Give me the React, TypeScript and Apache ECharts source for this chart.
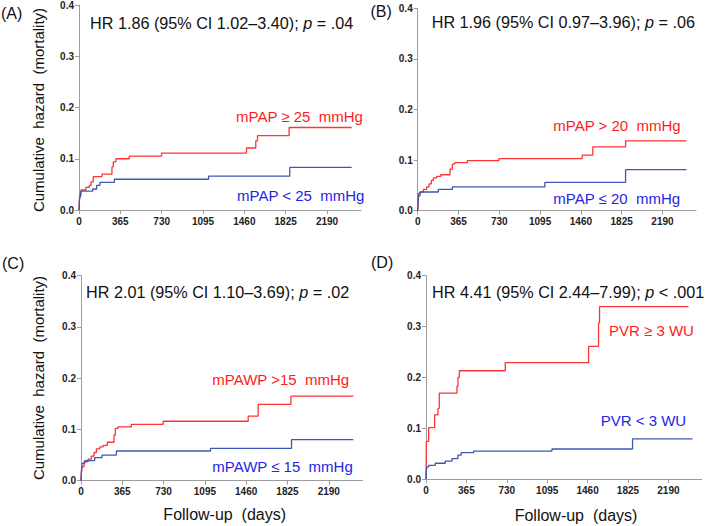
import React, { useEffect, useRef } from "react";
import * as echarts from "echarts";

const FONT = "'Liberation Sans', Arial, Helvetica, sans-serif";

const xTicks = [0, 365, 730, 1095, 1460, 1825, 2190];
const yTickFormat = (v: number) => v.toFixed(1);
const xTickFormat = (v: number) => String(Math.round(v));

const panelLetters = ["(A)", "(B)", "(C)", "(D)"];
const hrMain = [
  "HR 1.86 (95% CI 1.02\u20133.40); ",
  "HR 1.96 (95% CI 0.97\u20133.96); ",
  "HR 2.01 (95% CI 1.10\u20133.69); ",
  "HR 4.41 (95% CI 2.44\u20137.99); ",
];
const hrP = [" = .04", " = .06", " = .02", " < .001"];
const highLabels = ["mPAP \u2265 25  mmHg", "mPAP > 20  mmHg", "mPAWP >15  mmHg", "PVR \u2265 3 WU"];
const lowLabels = ["mPAP < 25  mmHg", "mPAP \u2264 20  mmHg", "mPAWP \u2264 15  mmHg", "PVR < 3 WU"];
const yTitle = "Cumulative  hazard  (mortality)";
const xTitle = "Follow-up  (days)";

// [day, cumulative hazard]
const aHigh = [[0, 0], [3, 0.015], [8, 0.029], [18, 0.039], [60, 0.044], [91, 0.048], [106, 0.055], [126, 0.065], [203, 0.07], [291, 0.084], [303, 0.094], [326, 0.1], [444, 0.105], [729, 0.111], [1479, 0.121], [1561, 0.135], [1576, 0.145], [1855, 0.161], [2408, 0.161]];
const aLow = [[0, 0], [5, 0.025], [12, 0.033], [18, 0.037], [121, 0.041], [156, 0.048], [185, 0.054], [312, 0.06], [1144, 0.066], [1861, 0.083], [2408, 0.083]];
const bHigh = [[0, 0], [3, 0.015], [6, 0.029], [21, 0.037], [51, 0.042], [80, 0.047], [101, 0.053], [122, 0.06], [140, 0.065], [170, 0.068], [206, 0.071], [289, 0.082], [310, 0.092], [331, 0.095], [444, 0.099], [727, 0.103], [1472, 0.11], [1567, 0.126], [1860, 0.138], [2405, 0.138]];
const bLow = [[0, 0], [4, 0.02], [9, 0.034], [21, 0.037], [185, 0.042], [310, 0.047], [1138, 0.056], [1860, 0.081], [2405, 0.081]];
const cHigh = [[0, 0], [3, 0.014], [9, 0.027], [27, 0.037], [62, 0.042], [91, 0.048], [115, 0.055], [136, 0.062], [165, 0.066], [195, 0.069], [233, 0.075], [292, 0.089], [304, 0.102], [327, 0.105], [445, 0.11], [726, 0.116], [1478, 0.126], [1566, 0.149], [1856, 0.165], [2407, 0.165]];
const cLow = [[0, 0], [4, 0.02], [9, 0.034], [32, 0.039], [121, 0.045], [186, 0.05], [313, 0.058], [1145, 0.063], [1861, 0.08], [2407, 0.08]];
const dHigh = [[0, 0], [2, 0.04], [3, 0.074], [24, 0.101], [78, 0.126], [108, 0.139], [120, 0.169], [280, 0.182], [289, 0.2], [301, 0.213], [716, 0.229], [1469, 0.261], [1559, 0.307], [1568, 0.339], [2372, 0.339]];
const dLow = [[0, 0], [3, 0.015], [8, 0.024], [24, 0.027], [84, 0.031], [174, 0.035], [234, 0.04], [288, 0.047], [318, 0.052], [430, 0.055], [1138, 0.059], [1866, 0.079], [2408, 0.079]];

const highSeries = [aHigh, bHigh, cHigh, dHigh];
const lowSeries = [aLow, bLow, cLow, dLow];

const X_MAX = 2490;

// layout (px)
const grids = [
  { left: 79, top: 4.3, width: 282, height: 205.7 },
  { left: 417.7, top: 8.3, width: 278.3, height: 202.4 },
  { left: 81, top: 275.7, width: 281.7, height: 205 },
  { left: 426, top: 275.7, width: 275.6, height: 203.3 },
];
const letterPos = [[1, 13], [370.5, 11.5], [2, 263], [371, 262]];
const hrPos = [[90, 22.5], [431.7, 21.7], [86, 292], [432, 292]];
const HR_SIZE = 16.2;
const highPos = [[236, 116.5], [553.3, 125.5], [212.3, 379.5], [609, 330]];
const lowPos = [[237, 195], [553.3, 198], [212.3, 466], [600.7, 420]];
const yTitlePos = [[38, 110], [38.3, 378]];
const xTitlePos = [[224.7, 514], [576, 515]];

const RED_LINE = "#ff3434";
const BLUE_LINE = "#3d58b4";
const RED_TEXT = "#ff1a1a";
const BLUE_TEXT = "#2424e6";
const AXIS = "#9c9c9c";

export default function App() {
  const ref = useRef<HTMLDivElement>(null);
  useEffect(() => {
    if (!ref.current) return;
    const chart = echarts.init(ref.current, undefined, { renderer: "svg" });
    const axisLabelStyle = { fontSize: 10, fontWeight: "bold" as const, color: "#222", fontFamily: FONT };
    const xAxis = grids.map((_, i) => ({
      gridIndex: i,
      type: "value",
      min: 0,
      max: X_MAX,
      interval: 365,
      axisLine: { show: true, onZero: false, lineStyle: { color: AXIS, width: 1 } },
      axisTick: { show: true, length: 4, lineStyle: { color: AXIS }, customValues: xTicks },
      axisLabel: { ...axisLabelStyle, margin: 6, customValues: xTicks, formatter: xTickFormat },
      splitLine: { show: false },
    }));
    const yAxis = grids.map((_, i) => ({
      gridIndex: i,
      type: "value",
      min: 0,
      max: 0.4,
      interval: 0.1,
      axisLine: { show: true, onZero: false, lineStyle: { color: AXIS, width: 1 } },
      axisTick: { show: true, length: 4, lineStyle: { color: AXIS } },
      axisLabel: { ...axisLabelStyle, margin: 5, formatter: yTickFormat },
      splitLine: { show: false },
    }));
    const series: any[] = [];
    grids.forEach((_, i) => {
      series.push({
        type: "line", xAxisIndex: i, yAxisIndex: i, data: highSeries[i], step: "end",
        symbol: "none", silent: true, lineStyle: { color: RED_LINE, width: 1.3 }, itemStyle: { color: RED_LINE },
      });
      series.push({
        type: "line", xAxisIndex: i, yAxisIndex: i, data: lowSeries[i], step: "end",
        symbol: "none", silent: true, lineStyle: { color: BLUE_LINE, width: 1.3 }, itemStyle: { color: BLUE_LINE },
      });
    });
    const graphic: any[] = [];
    grids.forEach((_, i) => {
      graphic.push({
        type: "text", x: letterPos[i][0], y: letterPos[i][1],
        style: { text: panelLetters[i], fontSize: 16, fontFamily: FONT, fill: "#111", align: "left", verticalAlign: "middle" },
      });
      graphic.push({
        type: "text", x: hrPos[i][0], y: hrPos[i][1],
        style: {
          text: `{n|${hrMain[i]}}{i|p}{n|${hrP[i]}}`,
          align: "left", verticalAlign: "middle", fontSize: HR_SIZE, fontFamily: FONT, fill: "#111",
          rich: {
            n: { fontSize: HR_SIZE, fontFamily: FONT, fill: "#111" },
            i: { fontSize: HR_SIZE, fontFamily: FONT, fill: "#111", fontStyle: "italic" },
          },
        },
      });
      graphic.push({
        type: "text", x: highPos[i][0], y: highPos[i][1],
        style: { text: highLabels[i], fontSize: 15, fontFamily: FONT, fill: RED_TEXT, align: "left", verticalAlign: "middle" },
      });
      graphic.push({
        type: "text", x: lowPos[i][0], y: lowPos[i][1],
        style: { text: lowLabels[i], fontSize: 15, fontFamily: FONT, fill: BLUE_TEXT, align: "left", verticalAlign: "middle" },
      });
    });
    yTitlePos.forEach((p) => {
      graphic.push({
        type: "text", x: p[0], y: p[1], rotation: Math.PI / 2,
        style: { text: yTitle, fontSize: 15, fontFamily: FONT, fill: "#111", align: "center", verticalAlign: "middle" },
      });
    });
    xTitlePos.forEach((p) => {
      graphic.push({
        type: "text", x: p[0], y: p[1],
        style: { text: xTitle, fontSize: 16, fontFamily: FONT, fill: "#111", align: "center", verticalAlign: "middle" },
      });
    });
    chart.setOption({
      animation: false,
      backgroundColor: "#ffffff",
      grid: grids.map((g) => ({ ...g, containLabel: false })),
      xAxis,
      yAxis,
      series,
      graphic,
    });
    return () => chart.dispose();
  }, []);
  return <div ref={ref} style={{ position: "absolute", left: 0, top: 0, width: 709, height: 526 }} />;
}
